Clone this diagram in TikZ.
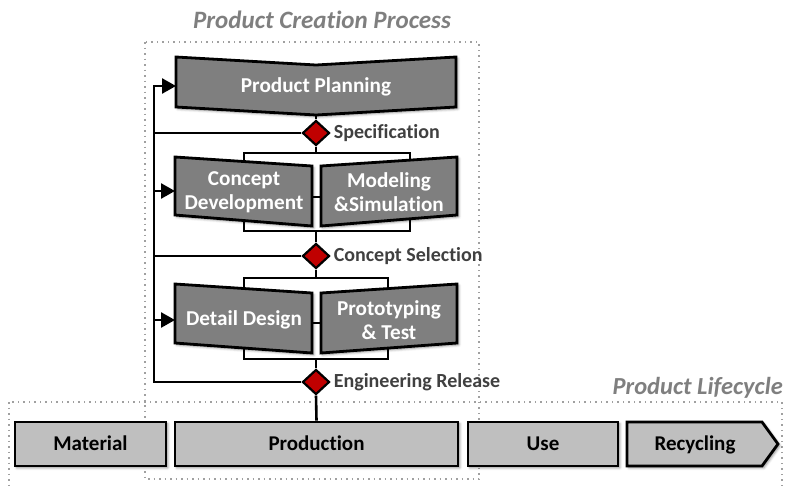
\documentclass[tikz,border=0pt]{standalone}
\usepackage{fontspec}
\setmainfont{Carlito}[RawFeature=-liga]
\usetikzlibrary{shapes.geometric,arrows.meta,shadows.blur}

\definecolor{boxdark}{HTML}{7F7F7F}
\definecolor{boxlight}{HTML}{BFBFBF}
\definecolor{gatered}{HTML}{C00000}
\definecolor{labelgray}{HTML}{404040}
\definecolor{titlegray}{HTML}{7F7F7F}
\definecolor{framegray}{HTML}{A0A0A0}

\begin{document}
\begin{tikzpicture}[x=1pt,y=-1pt,
  frame/.style={draw=framegray, line width=2pt, dash pattern=on 1.5pt off 4pt},
  boxshadow/.style={blur shadow={shadow xshift=1.8pt, shadow yshift=-1.8pt,
      shadow blur radius=2.5pt, shadow opacity=45}},
  darkbox/.style={draw=black, line width=2.8pt, fill=boxdark, line join=miter, boxshadow},
  lightbox/.style={draw=black, line width=2.8pt, fill=boxlight, line join=miter, boxshadow},
  darktext/.style={text=white, font=\bfseries\fontsize{21.2}{24}\selectfont, align=center, inner sep=0pt},
  lighttext/.style={text=black, font=\bfseries\fontsize{21}{23}\selectfont, align=center,
      inner sep=0pt, text height=13.5pt, text depth=0pt},
  stage/.style={lightbox, rectangle, minimum height=44pt, lighttext},
  gate/.style={diamond, draw=black, line width=2.2pt, fill=gatered,
      minimum width=27pt, minimum height=25pt, inner sep=0pt},
  gatelabel/.style={anchor=west, text=labelgray, font=\bfseries\fontsize{20}{22}\selectfont, inner sep=0pt},
  heading/.style={text=titlegray, font=\bfseries\itshape\fontsize{25}{27}\selectfont, inner sep=0pt},
  link/.style={draw=black, line width=2.6pt},
  feedback/.style={link, -{Triangle[length=14pt,width=15pt]}}
]
\useasboundingbox (0,0) rectangle (792,485);

% dotted frames and their headings
\draw[frame] (145,42) rectangle (479,479);
\draw[frame] (9,402) rectangle (782,492);
\node[heading] (pcp) at (322,20) {Product Creation Process};
\node[heading, anchor=east, font=\bfseries\itshape\fontsize{24.5}{27}\selectfont] (plc) at (783,388) {Product Lifecycle};

% anchor points of the process flow
\coordinate (ppBottom) at (316,115);
\coordinate (fork1) at (316,153);
\coordinate (join1) at (316,231);
\coordinate (fork2) at (316,278);
\coordinate (join2) at (316,359);
\coordinate (loopTop) at (154,86);
\coordinate (ppIn) at (176,86);
\coordinate (cdIn) at (175,191);
\coordinate (ddIn) at (175,320);

% quality gates
\node[gate] (spec) at (316,133) {};
\node[gate] (sel) at (316,256) {};
\node[gate] (rel) at (316,382) {};
\node[gatelabel] (specL) at ([xshift=3pt]spec.east) {Specification};
\node[gatelabel] (selL) at ([xshift=3pt]sel.east) {Concept Selection};
\node[gatelabel] (relL) at ([xshift=3pt]rel.east) {Engineering Release};

% parallel brackets behind the activity boxes
\draw[link] (244,175) -- (244,153) -- (410,153) -- (410,175);
\draw[link] (244,215) -- (244,231) -- (410,231) -- (410,215);
\draw[link] (300,197) -- (333,197);
\draw[link] (244,300) -- (244,278) -- (388,278) -- (388,300);
\draw[link] (244,340) -- (244,359) -- (388,359) -- (388,340);
\draw[link] (300,323) -- (333,323);

% activity boxes
\draw[darkbox] (176,57) -- (316,65) -- (456,57) -- (456,107) -- (316,115) -- (176,107) -- cycle;
\node[darktext] (pp) at (316,87) {Product Planning};
\draw[darkbox] (175,157) -- (312,166) -- (312,226) -- (175,215) -- cycle;
\node[darktext] (cd) at (244,192.5) {Concept\\Development};
\draw[darkbox] (321,166) -- (457,157) -- (457,215) -- (321,226) -- cycle;
\node[darktext] (ms) at (389,192.5) {Modeling\\\&Simulation};
\draw[darkbox] (175,284) -- (312,293) -- (312,353) -- (175,343) -- cycle;
\node[darktext] (dd) at (244,320) {Detail Design};
\draw[darkbox] (321,293) -- (457,284) -- (457,343) -- (321,353) -- cycle;
\node[darktext] (pt) at (389,320.5) {Prototyping\\\& Test};

% lifecycle stages
\node[stage, minimum width=151pt] (mat) at (90.5,444) {Material};
\node[stage, minimum width=283pt] (prod) at (316.5,444) {Production};
\node[stage, minimum width=150pt] (use) at (543,444) {Use};
\draw[lightbox] (627,422) -- (762,422) -- (778,444) -- (762,466) -- (627,466) -- cycle;
\node[lighttext] (rec) at (695,444) {Recycling};

% main flow
\draw[link] (ppBottom) -- (spec.north);
\draw[link] (spec.south) -- (fork1);
\draw[link] (join1) -- (sel.north);
\draw[link] (sel.south) -- (fork2);
\draw[link] (join2) -- (rel.north);
\draw[link] (rel.south) -- (prod.north);

% feedback loop
\draw[feedback] (rel.west) -| (loopTop) -- (ppIn);
\draw[link] (spec.west) -- (spec.west -| loopTop);
\draw[link] (sel.west) -- (sel.west -| loopTop);
\draw[feedback] (cdIn -| loopTop) -- (cdIn);
\draw[feedback] (ddIn -| loopTop) -- (ddIn);
\end{tikzpicture}
\end{document}
